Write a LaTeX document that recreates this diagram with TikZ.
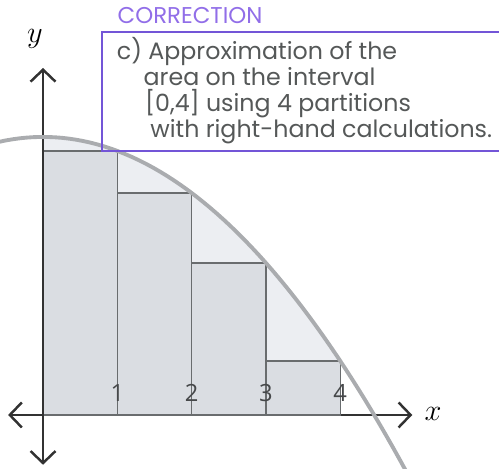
\documentclass[tikz,border=0pt]{standalone}
\usepackage{fontspec}
\newfontfamily\handfont{Poppins}
\newfontfamily\tickfont{Open Sans}
\usetikzlibrary{arrows.meta,positioning}
\definecolor{axisgray}{RGB}{50,50,50}
\definecolor{bargray}{RGB}{105,108,110}
\definecolor{barfill}{RGB}{218,221,226}
\definecolor{areafill}{RGB}{236,238,242}
\definecolor{curvegray}{RGB}{170,172,175}
\definecolor{tickgray}{RGB}{70,72,74}
\definecolor{boxpurple}{RGB}{115,85,215}
\definecolor{corrpurple}{RGB}{145,110,232}
\definecolor{handgray}{RGB}{85,88,88}

\begin{document}
\begin{tikzpicture}[x=1.486cm, y=1.486cm,
  declare function={f(\t)=3.742-0.1884*\t*\t;},
  axis/.style={draw=axisgray, line width=1.4pt, {Straight Barb[length=2.4mm,width=5mm]}-{Straight Barb[length=2.4mm,width=5mm]}},
  bar/.style={draw=bargray, fill=barfill, line width=0.7pt},
  curve/.style={draw=curvegray, line width=2.2pt},
  tick/.style={font=\tickfont\fontsize{13.5}{15}\selectfont, text=tickgray, anchor=base, inner sep=0pt},
  hand/.style={font=\handfont\fontsize{13.5}{15}\selectfont, text=handgray, anchor=base west, inner sep=0pt},
  box/.style={draw=boxpurple, line width=1.1pt}
]
\useasboundingbox (-0.579,-0.727) rectangle (6.137,5.585);
\clip (-0.579,-0.727) rectangle (6.137,5.585);

% area under the curve
\fill[areafill] (0,0) -- plot[domain=0:4, samples=40] (\x,{f(\x)}) -- (4,0) -- cycle;
\draw[axis] (-0.47,0) -- (4.97,0);

% right-hand rectangles
\draw[bar] (0,0) rectangle (1,{f(1)});
\draw[bar] (1,0) rectangle (2,{f(2)});
\draw[bar] (2,0) rectangle (3,{f(3)});
\draw[bar] (3,0) rectangle (4,{f(4)});
\draw[axis] (0,-0.67) -- (0,4.67);

\draw[curve] plot[domain=-0.6:5, samples=60] (\x,{f(\x)});

\node[font=\LARGE] (xlab) at (5.25,0.02) {$x$};
\node[font=\LARGE] (ylab) at (-0.11,5.06) {$y$};
\node[tick] (t1) at (1,0.175) {1};
\node[tick] (t2) at (2,0.175) {2};
\node[tick] (t3) at (3,0.175) {3};
\node[tick] (t4) at (4,0.175) {4};

% correction note
\draw[box] (0.80,3.55) rectangle (6.4,5.16);
\node[font=\handfont\fontsize{13}{15}\selectfont, text=corrpurple, anchor=base west, inner sep=0pt] (corr) at (1.0,5.27) {CORRECTION};
\node[hand] (line1) at (0.99,4.78) {c) Approximation of the};
\node[hand] (line2) at (1.35,4.43) {area on the interval};
\node[hand] (line3) at (1.37,4.08) {[0,4] using 4 partitions};
\node[hand] (line4) at (1.44,3.73) {with right-hand calculations.};
\end{tikzpicture}
\end{document}
